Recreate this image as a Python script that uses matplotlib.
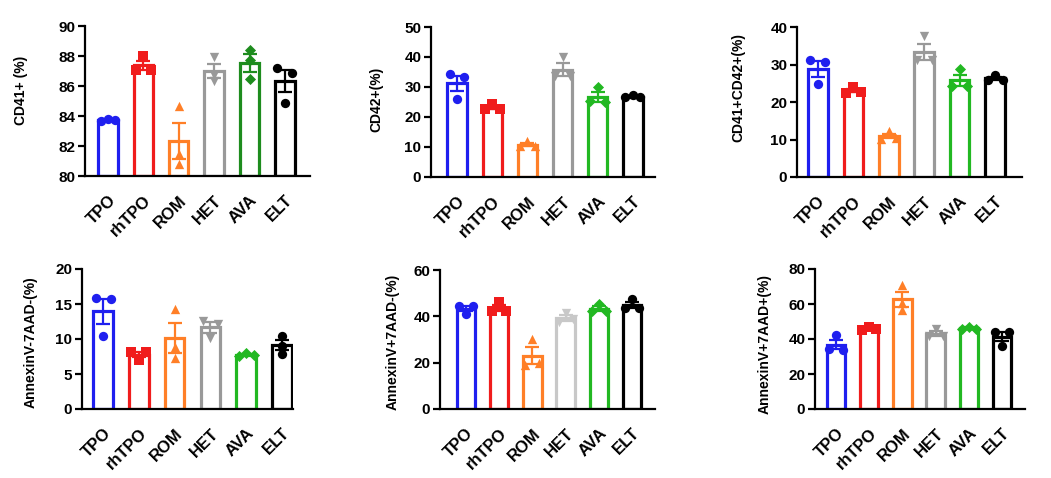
import numpy as np
import matplotlib
matplotlib.use("Agg")
import matplotlib.pyplot as plt

plt.rcParams['font.family'] = ['Liberation Sans', 'DejaVu Sans']
plt.rcParams['font.weight'] = 'bold'

groups = ["TPO", "rhTPO", "ROM", "HET", "AVA", "ELT"]
markers = ["o", "s", "^", "v", "D", "o"]

# ---- data (3 replicates per group) ----
cd41 = [[83.7, 83.8, 83.75], [87.1, 88.0, 87.1], [84.7, 81.5, 80.8],
        [87.95, 86.75, 86.35], [88.4, 87.75, 86.45], [87.2, 84.9, 86.9]]
cd42 = [[34.2, 26.1, 33.3], [22.6, 24.2, 22.6], [10.2, 12.0, 10.3],
        [33.8, 40.0, 33.6], [25.2, 30.0, 25.0], [26.6, 27.2, 26.6]]
cd41cd42 = [[31.3, 24.7, 30.7], [22.5, 24.0, 22.7], [10.2, 12.2, 10.4],
            [31.3, 37.5, 31.3], [24.2, 28.8, 24.4], [26.0, 27.1, 26.0]]
anx_neg = [[15.8, 10.4, 15.7], [8.1, 7.0, 8.1], [14.3, 8.9, 7.3],
           [12.6, 10.2, 12.2], [7.6, 8.0, 7.7], [10.4, 9.0, 7.9]]
anx_pos_7neg = [[44.6, 40.9, 44.5], [42.5, 46.3, 42.5], [19.1, 30.3, 19.8],
                [37.5, 41.5, 38.8], [42.3, 45.3, 42.5], [43.5, 47.5, 43.5]]
anx_pos_7pos = [[34.3, 42.1, 33.9], [45.0, 46.9, 45.7], [71.0, 60.6, 56.4],
                [45.5, 42.0, 41.8], [45.5, 47.0, 46.0], [43.8, 36.2, 43.8]]

ylabels = ["CD41+ (%)", "CD42+(%)", "CD41+CD42+(%)",
           "AnnexinV-7AAD-(%)", "AnnexinV+7AAD-(%)", "AnnexinV+7AAD+(%)"]
datasets = [cd41, cd42, cd41cd42, anx_neg, anx_pos_7neg, anx_pos_7pos]
yranges = [(80, 90, 2), (0, 50, 10), (0, 40, 10), (0, 20, 5), (0, 60, 20), (0, 80, 20)]

BLUE, RED, ORANGE, GREY, GREEN, BLACK = "#1f1fef", "#f01c1c", "#ff7f27", "#999999", "#22b822", "#000000"
palettes = [
    [BLUE, RED, ORANGE, GREY, "#1e8c1e", BLACK],
    [BLUE, RED, ORANGE, GREY, GREEN, BLACK],
    [BLUE, RED, ORANGE, GREY, GREEN, BLACK],
    [BLUE, RED, ORANGE, GREY, GREEN, BLACK],
    [BLUE, RED, ORANGE, "#c8c8c8", GREEN, BLACK],
    [BLUE, RED, ORANGE, GREY, GREEN, BLACK],
]

# ---- layout (pixels: left, top, right, bottom) ----
W, H = 1051, 478
rects = [(85, 26, 310, 176), (431, 27, 655, 177), (797, 27, 1022, 177),
         (82, 269, 293, 409), (440, 270, 655, 409), (815, 269, 1025, 409)]
xlims = [(-0.65, 5.71), (-0.74, 5.63), (-0.59, 5.76),
         (-0.59, 5.31), (-0.78, 5.69), (-0.63, 5.69)]
label_pos = [(28, 90), (383, 99), (745, 87), (38, 342), (400, 342), (772, 344)]

fig = plt.figure(figsize=(W / 100, H / 100), dpi=100)


def swarm_offsets(vals, thresh, w=0.21):
    n = len(vals)
    parent = list(range(n))

    def find(i):
        while parent[i] != i:
            i = parent[i]
        return i
    for i in range(n):
        for j in range(i + 1, n):
            if abs(vals[i] - vals[j]) < thresh:
                parent[find(j)] = find(i)
    comps = {}
    for i in range(n):
        comps.setdefault(find(i), []).append(i)
    off = [0.0] * n
    for members in comps.values():
        k = len(members)
        if k == 1:
            continue
        pos = np.linspace(-w, w, k)
        for m, p in zip(members, pos):
            off[m] = p
    return off


for idx, (data, ylab, (y0, y1, ystep), cols) in enumerate(zip(datasets, ylabels, yranges, palettes)):
    l, t, r, b = rects[idx]
    ax = fig.add_axes([l / W, 1 - b / H, (r - l) / W, (b - t) / H])
    x = np.arange(len(groups))
    means = [np.mean(v) for v in data]
    sems = [np.std(v, ddof=1) / np.sqrt(len(v)) for v in data]
    ax.bar(x, np.array(means) - y0, bottom=y0, width=0.55, facecolor="white",
           edgecolor=cols, linewidth=2.3, zorder=2)
    thresh = 0.033 * (y1 - y0)
    for i, vals in enumerate(data):
        offs = swarm_offsets(vals, thresh)
        ax.scatter(i + np.array(offs), vals, marker=markers[i], s=45 if markers[i] != "D" else 32,
                   color=cols[i], zorder=4, linewidths=0, clip_on=False)
        ax.errorbar(i, means[i], yerr=sems[i], color=cols[i], capsize=5, elinewidth=1.6,
                    capthick=1.6, zorder=3, fmt="none")
    ax.set_xlim(*xlims[idx])
    ax.set_ylim(y0, y1)
    ax.set_yticks(np.arange(y0, y1 + 0.001, ystep))
    ax.set_xticks(x)
    ax.set_xticklabels(groups, rotation=45, ha="right", rotation_mode="anchor",
                       fontsize=12, fontweight="bold")
    ax.tick_params(axis="x", length=0, pad=12)
    ax.tick_params(axis="y", length=5, width=1.6, labelsize=11, pad=2)
    for lab in ax.get_yticklabels():
        lab.set_fontweight("bold")
    for s in ["top", "right"]:
        ax.spines[s].set_visible(False)
    for s in ["left", "bottom"]:
        ax.spines[s].set_linewidth(1.6)
    ax.set_ylabel(ylab, fontsize=10, fontweight="bold")
    lx, ly = label_pos[idx]
    ax.yaxis.set_label_coords((lx - l) / (r - l), (b - ly) / (b - t))

fig.savefig("out.png", dpi=100)
